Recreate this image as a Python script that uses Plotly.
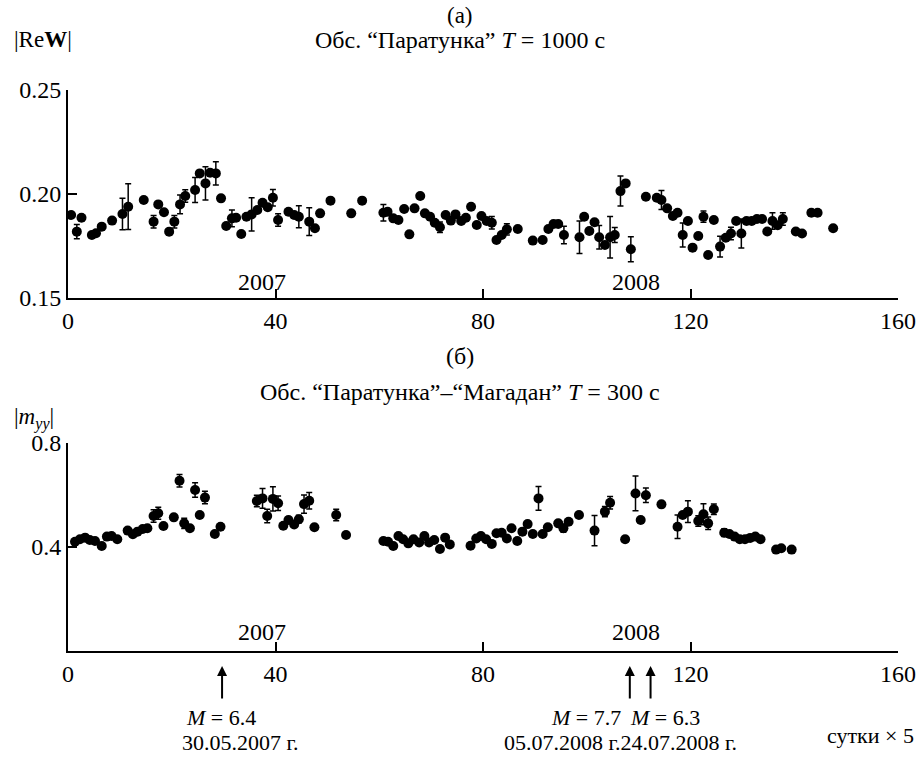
import plotly.graph_objects as go

# ---------------- Panel (a): |ReW|, Paratunka, T = 1000 s ----------------
a_x = [0.6, 1.7, 2.6, 4.6, 5.4, 6.5, 8.5, 10.5, 11.6, 14.6, 16.5, 17.4, 18.5, 19.5, 20.5,
       21.6, 22.6, 24.5, 25.4, 26.5, 27.4, 28.5, 29.5, 30.5, 31.6, 32.4, 33.4, 34.4, 35.4,
       36.5, 37.5, 38.5, 39.5, 40.5, 42.5, 43.6, 44.5, 46.5, 47.6, 48.6, 50.6, 54.6, 56.7,
       60.8, 61.6, 62.7, 63.7, 64.8, 65.8, 66.8, 67.9, 68.8, 69.8, 70.7, 71.7, 72.8, 73.8,
       74.7, 75.8, 76.7, 77.7, 78.8, 79.7, 80.7, 81.7, 82.6, 83.6, 84.6, 86.7, 89.6, 91.5,
       92.6, 93.6, 94.5, 95.6, 98.6, 99.5, 100.5, 101.5, 102.4, 103.5, 104.5, 105.4, 106.5,
       107.5, 108.5, 111.4, 113.5, 114.4, 115.5, 116.6, 117.5, 118.5, 119.5, 120.4, 121.5,
       122.5, 123.4, 124.5, 125.7, 126.8, 127.8, 128.8, 129.8, 130.8, 131.8, 132.8, 133.8,
       134.8, 135.8, 136.8, 137.8, 140.3, 141.5, 143.3, 144.5, 147.5]
a_y = [0.1899, 0.1819, 0.1886, 0.1803, 0.1811, 0.1843, 0.1872, 0.1904, 0.1939, 0.1971,
       0.1867, 0.1950, 0.1912, 0.1819, 0.1867, 0.1950, 0.1990, 0.2019, 0.2099, 0.2051,
       0.2102, 0.2099, 0.1979, 0.1846, 0.1883, 0.1886, 0.1808, 0.1891, 0.1902, 0.1923,
       0.1958, 0.1936, 0.1982, 0.1875, 0.1915, 0.1899, 0.1891, 0.1867, 0.1835, 0.1907,
       0.1968, 0.1907, 0.1968, 0.1910, 0.1915, 0.1883, 0.1875, 0.1928, 0.1806, 0.1931,
       0.1990, 0.1907, 0.1891, 0.1862, 0.1840, 0.1899, 0.1872, 0.1902, 0.1870, 0.1886,
       0.1939, 0.1851, 0.1894, 0.1870, 0.1862, 0.1779, 0.1803, 0.1830, 0.1832, 0.1776,
       0.1779, 0.1832, 0.1856, 0.1856, 0.1803, 0.1792, 0.1891, 0.1822, 0.1864, 0.1792,
       0.1755, 0.1792, 0.1803, 0.2014, 0.2051, 0.1734, 0.1987, 0.1982, 0.1971, 0.1931,
       0.1894, 0.1910, 0.1803, 0.1870, 0.1742, 0.1798, 0.1891, 0.1707, 0.1875, 0.1747,
       0.179, 0.181, 0.187, 0.181, 0.187, 0.187, 0.188, 0.188, 0.182, 0.187, 0.185, 0.188,
       0.182, 0.181, 0.191, 0.191, 0.1835]
a_err = [0, 0.0034, 0, 0, 0, 0, 0, 0.0076, 0.011, 0, 0.003, 0, 0, 0, 0.003, 0.0045, 0.003,
         0.006, 0, 0.008, 0, 0.0056, 0, 0, 0.004, 0, 0, 0, 0.008, 0, 0, 0, 0.004, 0.003, 0,
         0, 0.0053, 0.0067, 0, 0, 0, 0, 0, 0.004, 0, 0, 0, 0, 0, 0, 0, 0, 0, 0, 0.0025, 0,
         0, 0, 0, 0, 0, 0, 0, 0, 0.003, 0, 0, 0.0027, 0, 0, 0, 0, 0, 0, 0.0042, 0.0078, 0,
         0, 0, 0.0056, 0, 0.01, 0.0036, 0.0072, 0, 0.006, 0, 0, 0.0046, 0, 0, 0, 0.0058, 0,
         0, 0, 0.0027, 0, 0, 0.005, 0, 0.003, 0, 0.007, 0, 0, 0, 0, 0, 0.004, 0, 0.003, 0,
         0, 0, 0, 0]

# ---------------- Panel (b): |m_yy|, Paratunka - Magadan, T = 300 s ----------------
b_x = [1.35, 2.3, 3.3, 4.2, 5.2, 6.5, 7.5, 8.4, 9.5, 11.5, 12.5, 13.4, 14.4, 15.3, 16.5,
       17.4, 18.4, 20.4, 21.5, 22.4, 23.5, 24.5, 25.4, 26.4, 28.3, 29.4, 36.4, 37.5, 38.4,
       39.5, 40.5, 41.5, 42.5, 43.6, 44.5, 45.5, 46.5, 47.5, 51.7, 53.6, 60.8, 61.7, 62.7,
       63.7, 64.6, 65.6, 66.6, 67.7, 68.7, 69.6, 70.6, 71.7, 72.7, 73.6, 77.6, 78.7, 79.6,
       80.6, 81.7, 82.6, 83.6, 84.6, 85.5, 86.6, 87.6, 88.6, 89.6, 90.7, 91.5, 92.5, 94.5,
       95.5, 96.5, 98.5, 101.5, 103.5, 104.5, 107.4, 109.4, 110.4, 111.4, 114.4, 117.5,
       118.5, 119.5, 121.5, 122.5, 123.4, 124.5, 126.5, 127.5, 128.5, 129.5, 130.5, 131.5,
       132.5, 133.5, 136.5, 137.5, 139.5]
b_y = [0.420, 0.430, 0.436, 0.427, 0.423, 0.404, 0.440, 0.442, 0.430, 0.463, 0.449, 0.459,
       0.469, 0.472, 0.519, 0.530, 0.481, 0.514, 0.655, 0.491, 0.472, 0.619, 0.523, 0.590,
       0.450, 0.478, 0.577, 0.587, 0.519, 0.585, 0.568, 0.482, 0.504, 0.487, 0.507, 0.565,
       0.578, 0.476, 0.523, 0.446, 0.423, 0.420, 0.404, 0.442, 0.430, 0.414, 0.430, 0.417,
       0.442, 0.417, 0.427, 0.392, 0.436, 0.410, 0.405, 0.433, 0.442, 0.430, 0.412, 0.453,
       0.455, 0.433, 0.472, 0.423, 0.459, 0.488, 0.450, 0.587, 0.450, 0.476, 0.491, 0.472,
       0.497, 0.523, 0.463, 0.536, 0.570, 0.430, 0.606, 0.504, 0.599, 0.564, 0.478, 0.523,
       0.536, 0.500, 0.526, 0.491, 0.545, 0.455, 0.450, 0.440, 0.430, 0.430, 0.435, 0.440,
       0.430, 0.390, 0.395, 0.390]
b_err = [0, 0, 0, 0, 0, 0, 0, 0, 0, 0, 0, 0, 0, 0, 0.024, 0.023, 0, 0, 0.024, 0.02, 0,
         0.028, 0, 0.024, 0, 0, 0.022, 0.038, 0.026, 0.047, 0.028, 0, 0.01, 0, 0.015, 0.035,
         0.032, 0, 0.022, 0, 0, 0, 0, 0, 0, 0, 0, 0, 0, 0, 0, 0, 0, 0, 0, 0, 0, 0, 0, 0, 0,
         0, 0, 0, 0, 0, 0, 0.046, 0, 0, 0, 0.015, 0, 0, 0.058, 0.02, 0.024, 0, 0.067, 0,
         0.028, 0, 0.045, 0, 0.042, 0.02, 0.04, 0.024, 0.02, 0.015, 0, 0, 0, 0, 0, 0, 0, 0,
         0, 0]

x_ticks = [0, 40, 80, 120, 160]
a_ticks = [0.15, 0.20, 0.25]
a_ticklabels = ["0.15", "0.20", "0.25"]
b_ticks = [0.4, 0.8]
b_ticklabels = ["0.4", "0.8"]

# earthquake events (x position, magnitude)
ev_x = [29.7, 108.3, 112.3]
ev_mag = ["<i>M</i> = 6.4", "<i>M</i> = 7.7", "<i>M</i> = 6.3"]

FONT = "Liberation Serif"
W, H = 918, 758


def px(x):  # window pixel -> paper x
    return x / W


def py(y):  # window pixel -> paper y
    return 1 - y / H


fig = go.Figure()
marker = dict(color="black", size=10)
for xs, ys, es, xa, ya in [(a_x, a_y, a_err, "x", "y"), (b_x, b_y, b_err, "x2", "y2")]:
    fig.add_trace(go.Scatter(
        x=xs, y=ys, mode="markers", marker=marker, xaxis=xa, yaxis=ya,
        error_y=dict(type="data", array=es, visible=True, color="black",
                     thickness=1.5, width=3),
        showlegend=False, hoverinfo="skip"))

axis_common = dict(showline=True, linecolor="black", linewidth=2, ticks="inside",
                   ticklen=9, tickwidth=2, tickcolor="black", showgrid=False,
                   zeroline=False, automargin=False,
                   tickfont=dict(family=FONT, size=24, color="black"))
xd = [px(68), px(898)]
fig.update_layout(
    width=W, height=H, margin=dict(l=0, r=0, t=0, b=0, autoexpand=False),
    paper_bgcolor="white", plot_bgcolor="white",
    font=dict(family=FONT, size=24, color="black"),
    xaxis=dict(domain=xd, range=[0, 160], tickvals=x_ticks, anchor="y", **axis_common),
    yaxis=dict(domain=[py(298), py(90)], range=[0.15, 0.25], tickvals=a_ticks,
               ticktext=a_ticklabels, anchor="x", **axis_common),
    xaxis2=dict(domain=xd, range=[0, 160], tickvals=x_ticks, anchor="y2", **axis_common),
    yaxis2=dict(domain=[py(651), py(443)], range=[0, 0.8], tickvals=b_ticks,
                ticktext=b_ticklabels, anchor="x2", **axis_common),
)

ann = []


def txt(text, x, y, xanchor="center", size=24, xref="paper", yref="paper"):
    ann.append(dict(text=text, x=x, y=y, xref=xref, yref=yref, showarrow=False,
                    xanchor=xanchor, yanchor="middle",
                    font=dict(family=FONT, size=size, color="black")))


txt("(а)", px(460), py(15), size=23)
txt("Обс. “Паратунка” <i>T</i> = 1000 с", px(460), py(40))
txt("|Re<b>W</b>|", px(12), py(40), xanchor="left", size=23)
txt("(б)", px(460), py(356))
txt("Обс. “Паратунка”–“Магадан” <i>T</i> = 300 с", px(460), py(392))
txt("|<i>m</i><sub><i>yy</i></sub>|", px(12), py(418), xanchor="left", size=23)
txt("2007", 37.4, 0.1577, xref="x", yref="y")
txt("2008", 109.5, 0.1577, xref="x", yref="y")
txt("2007", 37.4, 0.073, xref="x2", yref="y2")
txt("2008", 109.5, 0.073, xref="x2", yref="y2")

for xv in ev_x:
    ann.append(dict(x=xv, y=py(666), xref="x2", yref="paper", ax=0, ay=34,
                    showarrow=True, arrowhead=2, arrowsize=1, arrowwidth=2,
                    arrowcolor="black", text=""))

txt(ev_mag[0], px(221), py(717), size=22)
txt("30.05.2007 г.", px(240), py(742), size=22)
txt(ev_mag[1], px(586), py(717), size=22)
txt(ev_mag[2], px(665), py(717), size=22)
txt("05.07.2008 г.24.07.2008 г.", px(620), py(742), size=22)
txt("сутки × 5", px(916), py(735), xanchor="right", size=22)

fig.update_layout(annotations=ann)
fig.write_html("out.html",
               config={"displayModeBar": False, "staticPlot": True},
               post_script="document.body.style.margin='0';"
                           "document.body.style.padding='0';"
                           "document.body.style.overflow='hidden';"
                           "document.documentElement.style.overflow='hidden';")
